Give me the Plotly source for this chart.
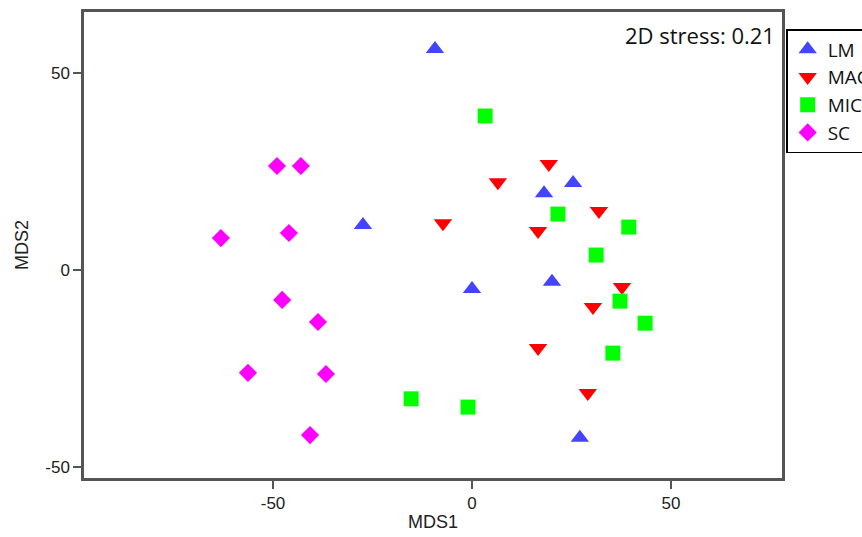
import plotly.graph_objects as go

# Data (MDS1, MDS2) per group
lm_x = [-9.3, -27.4, 18.1, 25.4, 0.0, 20.1, 27.1]
lm_y = [56.1, 11.4, 19.5, 22.1, -4.8, -3.0, -42.6]

mac_x = [19.3, 6.5, -7.3, 16.6, 31.9, 37.7, 30.4, 16.6, 29.1]
mac_y = [26.9, 22.3, 11.9, 9.9, 15.0, -4.3, -9.4, -19.8, -31.2]

mic_x = [3.3, 21.6, 39.4, 31.2, 37.2, 43.5, 35.4, -15.3, -1.0]
mic_y = [39.1, 14.2, 10.9, 3.8, -7.9, -13.5, -21.1, -32.7, -34.8]

sc_x = [-49.0, -43.0, -63.1, -46.0, -47.7, -38.7, -56.3, -36.7, -40.7]
sc_y = [26.4, 26.4, 8.1, 9.4, -7.6, -13.2, -26.1, -26.4, -41.9]

groups = ["LM", "MAC", "MIC", "SC"]
x_ticks = [-50, 0, 50]
x_ticktext = ["-50", "0", "50"]
y_ticks = [-50, 0, 50]
y_ticktext = ["-50", "0", "50"]
stress_text = "2D stress: 0.21"

styles = {
    "LM": dict(symbol="triangle-up", color="#4444FF", size=16),
    "MAC": dict(symbol="triangle-down", color="#FF0000", size=16),
    "MIC": dict(symbol="square", color="#00FF00", size=15),
    "SC": dict(symbol="diamond", color="#FF00FF", size=14),
}
data = {"LM": (lm_x, lm_y), "MAC": (mac_x, mac_y), "MIC": (mic_x, mic_y), "SC": (sc_x, sc_y)}

fig = go.Figure()
for g in groups:
    xs, ys = data[g]
    st = styles[g]
    fig.add_trace(go.Scatter(
        x=xs, y=ys, mode="markers", name=g,
        marker=dict(symbol=st["symbol"], color=st["color"], size=st["size"], line=dict(width=0)),
    ))

axis_font = "Liberation Sans, Arial"
axis_common = dict(
    showgrid=False, zeroline=False, showline=True, mirror=True,
    linecolor="#555555", linewidth=2.5, ticks="outside", ticklen=8,
    tickcolor="#555555", tickwidth=1.5,
    tickfont=dict(family=axis_font, size=17, color="#222222"),
)

fig.update_layout(
    width=862, height=537,
    margin=dict(l=84, r=80, t=12, b=59, autoexpand=False),
    paper_bgcolor="white", plot_bgcolor="white",
    xaxis=dict(range=[-97.5, 77.9], tickvals=x_ticks, ticktext=x_ticktext,
               title=dict(text="MDS1", font=dict(family=axis_font, size=18, color="#222222"), standoff=4),
               **axis_common),
    yaxis=dict(range=[-52.8, 65.5], tickvals=y_ticks, ticktext=y_ticktext,
               title=dict(text="MDS2", font=dict(family=axis_font, size=18, color="#222222"), standoff=12),
               **axis_common),
    legend=dict(x=1.006, y=0.9635, xanchor="left", yanchor="top",
                bordercolor="black", borderwidth=1.5, bgcolor="white",
                font=dict(family="Open Sans", size=19, color="#111111"),
                itemwidth=30, tracegroupgap=0),
    showlegend=True,
    annotations=[dict(text=stress_text, xref="paper", yref="paper", x=0.993, y=0.988,
                      xanchor="right", yanchor="top", showarrow=False,
                      font=dict(family="Open Sans", size=22, color="#111111"))],
)

fig.write_html("out.html")
